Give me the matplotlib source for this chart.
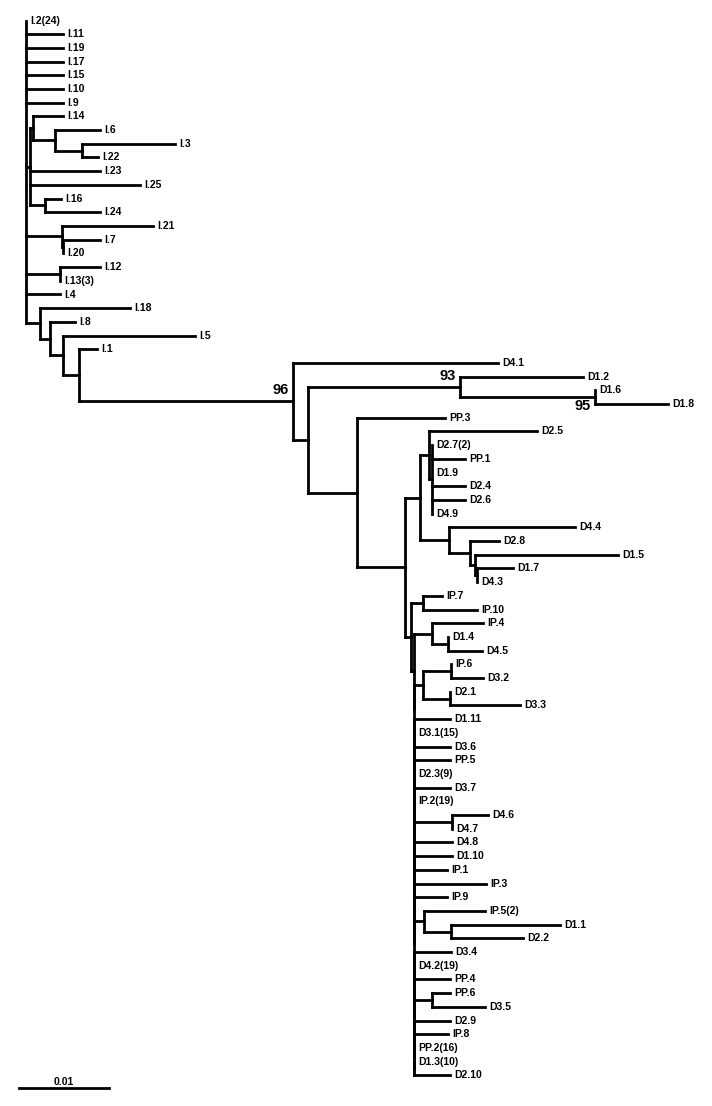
import matplotlib
matplotlib.use("Agg")
import matplotlib.pyplot as plt

plt.rcParams['font.family'] = ['Liberation Sans', 'DejaVu Sans']

# branch lengths in substitutions/site; internal labels = bootstrap values
i_subclade = ("((I.14:0.00333,(I.6:0.005,(I.3:0.01033,I.22:0.00178):0.003):0.00244):0.00033,"
              "I.23:0.00778,I.25:0.01222,(I.16:0.00178,I.24:0.00611):0.00167):0.00044")
d12_clade = "(D1.2:0.01367,(D1.6:0,D1.8:0.00811)95:0.015)93:0.01689"
d25_clade = ("((D2.5:0.012,('D2.7(2)':0,PP.1:0.00367,D1.9:0,D2.4:0.00367,D2.6:0.00367,D4.9:0):0.00033):0.001,"
             "(D4.4:0.014,(D2.8:0.00322,(D1.5:0.01589,(D1.7:0.004,D4.3:0):0.00022):0.00056):0.00233):0.00322):0.00167")
ip7_clade = "(IP.7:0.00211,IP.10:0.006):0.00133"

# large unresolved group (zero-length internal branches)
big_group = [
    "(IP.4:0.00567,(D1.4:0,D4.5:0.00378):0.00178):0.002",
    "((IP.6:0,D3.2:0.00356):0.00311,(D2.1:0,D3.3:0.00778):0.003):0.001",
    "D1.11:0.004", "'D3.1(15)':0", "D3.6:0.004", "PP.5:0.004", "'D2.3(9)':0",
    "D3.7:0.004", "'IP.2(19)':0", "(D4.6:0.004,D4.7:0):0.00422", "D4.8:0.00422",
    "D1.10:0.00422", "IP.1:0.00367", "IP.3:0.008", "IP.9:0.00367",
    "('IP.5(2)':0.00678,(D1.1:0.01211,D2.2:0.008):0.003):0.00111",
    "D3.4:0.00411", "'D4.2(19)':0", "PP.4:0.004", "(PP.6:0.002,D3.5:0.00589):0.002",
    "D2.9:0.004", "IP.8:0.00378", "'PP.2(16)':0", "'D1.3(10)':0", "D2.10:0.004",
]

i_leaves = ["'I.2(24)':0", "I.11:0.00411", "I.19:0.00411", "I.17:0.00411",
            "I.15:0.00411", "I.10:0.00411", "I.9:0.00411"]
i_rest = ["(I.21:0.01011,(I.7:0.00411,I.20:0):0.00011):0.004",
          "(I.12:0.00444,'I.13(3)':0):0.00378", "I.4:0.00378"]


def ladder(items):
    if len(items) == 2:
        return "(%s,%s)" % (items[0], items[1])
    return "(%s,%s:0)" % (items[0], ladder(items[1:]))


big = ladder(big_group) + ":0.00033"
n411 = "(%s,%s):0.00067" % (ip7_clade, big)
n357 = "(PP.3:0.00978,(%s,%s):0.00533):0.00544" % (d25_clade, n411)
d_clade = "(D4.1:0.02278,(%s,%s):0.00167)96:0.02378" % (d12_clade, n357)
outer = ("(I.18:0.01,(I.8:0.00278,(I.5:0.01467,(I.1:0.002,%s):0.00178):0.00144):0.00111):0.00156"
         % d_clade)
newick = "(" + ",".join(i_leaves + [i_subclade] + i_rest + [outer]) + ");"


def parse(s):
    s = "".join(s.split())
    pos = 0

    def node():
        nonlocal pos
        n = {'children': [], 'name': '', 'len': 0.0}
        if s[pos] == '(':
            pos += 1
            while True:
                n['children'].append(node())
                if s[pos] == ',':
                    pos += 1
                    continue
                pos += 1
                break
        if s[pos] == "'":
            end = s.index("'", pos + 1)
            n['name'] = s[pos + 1:end]
            pos = end + 1
        else:
            start = pos
            while s[pos] not in ":,();":
                pos += 1
            n['name'] = s[start:pos]
        if s[pos] == ':':
            pos += 1
            start = pos
            while s[pos] not in ",();":
                pos += 1
            n['len'] = float(s[start:pos])
        return n
    return node()


def layout(n, x0, rows):
    n['x'] = x0 + n['len']
    if not n['children']:
        n['y'] = len(rows)
        rows.append(n)
    else:
        for c in n['children']:
            layout(c, n['x'], rows)
        n['y'] = (n['children'][0]['y'] + n['children'][-1]['y']) / 2


tree = parse(newick)
leaves = []
layout(tree, 0.0, leaves)

PX = 0.01 / 90      # one pixel in x
ROW = 13.7          # pixels per leaf row
PY = 1 / ROW

fig = plt.figure(figsize=(7.12, 11.06), dpi=100)
ax = fig.add_axes([0, 0, 1, 1])
ax.set_xlim(-26 * PX, (712 - 26) * PX)
ax.set_ylim((1106 - 20.5) / ROW, -20.5 / ROW)
ax.axis('off')

lw = 2.0
kw = dict(color='black', lw=lw, solid_capstyle='projecting')


def draw(n, parent=None):
    if parent is not None and n['len'] > 0:
        ax.plot([parent['x'], n['x']], [n['y'], n['y']], **kw)
    if n['children']:
        ax.plot([n['x'], n['x']], [n['children'][0]['y'], n['children'][-1]['y']], **kw)
        if n['name']:
            below = n['name'] == '95'
            ax.text(n['x'] - 4 * PX, n['y'] + (2 if below else -4) * PY, n['name'],
                    ha='right', va='top' if below else 'bottom',
                    fontsize=10.5, fontweight='bold')
        for c in n['children']:
            draw(c, n)
    else:
        ax.text(n['x'] + 4 * PX, n['y'], n['name'], ha='left', va='center',
                fontsize=7.5, fontweight='bold')


draw(tree)

# scale bar
bar_y = (1088 - 20.5) / ROW
ax.plot([-7 * PX, -7 * PX + 0.01], [bar_y, bar_y], **kw)
ax.text(-7 * PX + 0.005, bar_y - 1 * PY, "0.01", ha='center', va='bottom',
        fontsize=7.5, fontweight='bold')

fig.savefig("out.png", dpi=100)
